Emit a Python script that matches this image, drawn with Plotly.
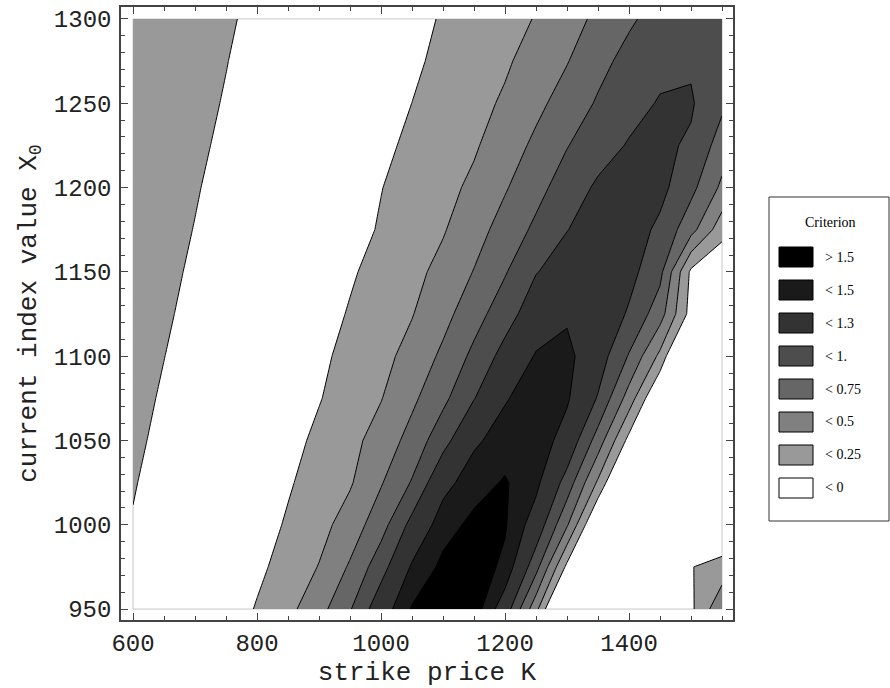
import plotly.graph_objects as go

# ---- data ----
strike_K = [600, 650, 700, 750, 800, 850, 900, 950, 1000, 1050,
            1100, 1150, 1200, 1250, 1300, 1350, 1400, 1450, 1500, 1550]
index_X0 = [950, 975, 1000, 1025, 1050, 1075, 1100, 1125, 1150,
            1175, 1200, 1225, 1250, 1275, 1300]

row_950 = [-0.044, -0.10, -0.15, -0.15, 0.02, 0.184, 0.41, 0.73, 1.17, 1.52,
           1.65, 1.62, 1.15, 0.33, -0.77, -0.6, -0.4, -0.2, -0.05, 0.45]
row_975 = [-0.026, -0.086, -0.146, -0.15, -0.056, 0.10, 0.26, 0.53, 0.90, 1.33,
           1.55, 1.60, 1.46, 0.84, -0.06, -0.5, -0.4, -0.25, -0.01, 0.1]
row_1000 = [-0.008, -0.068, -0.128, -0.16, -0.11, 0.028, 0.167, 0.36, 0.65, 1.08,
            1.42, 1.55, 1.52, 1.18, 0.53, -0.36, -0.45, -0.4, -0.3, -0.3]
row_1025 = [0.009, -0.051, -0.111, -0.16, -0.158, -0.026, 0.105, 0.2245, 0.48, 0.77,
            1.22, 1.42, 1.52, 1.36, 0.90, 0.21, -0.6, -0.5, -0.45, -0.45]
row_1050 = [0.027, -0.033, -0.093, -0.18, -0.204, -0.077, 0.051, 0.179, 0.35, 0.59,
            0.91, 1.26, 1.40, 1.43, 1.20, 0.64, -0.08, -0.5, -0.6, -0.6]
row_1075 = [0.044, -0.016, -0.076, -0.14, -0.22, -0.14, -0.013, 0.114, 0.24, 0.45,
            0.69, 0.99, 1.28, 1.42, 1.33, 0.98, 0.39, -0.34, -0.6, -0.7]
row_1100 = [0.062, 0.002, -0.058, -0.12, -0.2, -0.163, -0.048, 0.067, 0.18, 0.33,
            0.55, 0.81, 1.09, 1.32, 1.36, 1.13, 0.73, 0.19, -0.75, -0.75]
row_1125 = [0.080, 0.020, -0.040, -0.1, -0.2, -0.2, -0.093, 0.018, 0.128, 0.239,
            0.42, 0.65, 0.89, 1.15, 1.27, 1.20, 0.97, 0.61, -0.1, -0.5]
row_1150 = [0.097, 0.037, -0.023, -0.09, -0.18, -0.23, -0.132, -0.027, 0.078, 0.183,
            0.32, 0.51, 0.73, 0.99, 1.10, 1.15, 1.08, 0.82, -0.05, -0.25]
row_1175 = [0.115, 0.055, -0.005, -0.07, -0.15, -0.22, -0.19, -0.084, 0.021, 0.126,
            0.231, 0.40, 0.60, 0.80, 0.995, 1.09, 1.12, 0.95, 0.59, 0.1]
row_1200 = [0.132, 0.072, 0.012, -0.05, -0.12, -0.18, -0.19, -0.099, -0.006, 0.088,
            0.181, 0.297, 0.478, 0.67, 0.87, 1.04, 1.08, 1.07, 0.82, 0.45]
row_1225 = [0.150, 0.090, 0.030, -0.03, -0.1, -0.16, -0.22, -0.137, -0.047, 0.043,
            0.133, 0.223, 0.373, 0.552, 0.739, 0.893, 1.02, 1.045, 0.97, 0.63]
row_1250 = [0.168, 0.108, 0.048, -0.012, -0.08, -0.17, -0.22, -0.18, -0.089, 0.001,
            0.089, 0.179, 0.281, 0.438, 0.607, 0.777, 0.91, 1.02, 1.025, 0.8]
row_1275 = [0.185, 0.125, 0.065, 0.005, -0.06, -0.12, -0.22, -0.206, -0.121, -0.036,
            0.049, 0.134, 0.219, 0.343, 0.488, 0.674, 0.83, 0.93, 0.97, 0.85]
row_1300 = [0.203, 0.143, 0.083, 0.023, -0.04, -0.1, -0.16, -0.2, -0.142, -0.062,
            0.018, 0.097, 0.177, 0.261, 0.403, 0.551, 0.712, 0.85, 0.90, 0.88]

criterion = [row_950, row_975, row_1000, row_1025, row_1050, row_1075, row_1100,
             row_1125, row_1150, row_1175, row_1200, row_1225, row_1250,
             row_1275, row_1300]

contour_levels = [0, 0.25, 0.5, 0.75, 1.0, 1.3, 1.5]
level_fill = ["#999999", "#808080", "#666666", "#4d4d4d", "#333333", "#1a1a1a", "#000000"]

legend_labels = ["&gt; 1.5", "&lt; 1.5", "&lt; 1.3", "&lt; 1.", "&lt; 0.75",
                 "&lt; 0.5", "&lt; 0.25", "&lt; 0"]
legend_fill = ["#000000", "#1a1a1a", "#333333", "#4d4d4d", "#666666", "#808080", "#999999", "#ffffff"]

x_tickvals = [600, 800, 1000, 1200, 1400]
y_tickvals = [950, 1000, 1050, 1100, 1150, 1200, 1250, 1300]

# ---- figure ----
W, H = 890, 688
ML, MR, MT, MB = 121, 157, 7, 68
PW, PH = W - ML - MR, H - MT - MB

fig = go.Figure()

# light border of the sampled region
fig.add_shape(type="rect", x0=strike_K[0], x1=strike_K[-1], y0=index_X0[0], y1=index_X0[-1],
              xref="x", yref="y", line=dict(color="#c8c8c8", width=1), layer="below")

# constraint fill shades the region where the constraint fails, i.e. z >= level
for lev, col in zip(contour_levels, level_fill):
    fig.add_trace(go.Contour(
        x=strike_K, y=index_X0, z=criterion,
        contours=dict(type="constraint", operation="<", value=lev),
        fillcolor=col,
        line=dict(color="black", width=1, smoothing=0),
        showscale=False, hoverinfo="skip", showlegend=False,
    ))

mono = "Liberation Mono, Courier New, monospace"
axis_common = dict(showgrid=False, zeroline=False, showline=True, linecolor="#444",
                   linewidth=1.5, mirror="allticks", ticks="inside", ticklen=7,
                   tickcolor="#444", tickwidth=1, tickfont=dict(family=mono, size=24, color="#222"))

fig.update_xaxes(range=[580.6, 1567.7], tickvals=x_tickvals,
                 minor=dict(dtick=50, tick0=600, ticks="inside", ticklen=4, tickcolor="#444"),
                 title=dict(text="strike price K", font=dict(family=mono, size=26, color="#222"),
                            standoff=4),
                 **axis_common)
fig.update_yaxes(range=[943.5, 1307.1], tickvals=y_tickvals, ticklabelstandoff=3,
                 minor=dict(dtick=10, tick0=950, ticks="inside", ticklen=4, tickcolor="#444"),
                 title=dict(text="current index value X<sub>0</sub>",
                            font=dict(family=mono, size=26, color="#222"), standoff=10),
                 **axis_common)

# ---- legend box drawn in pixel geometry ----
def px(xp):
    return (xp - ML) / PW

def py(yp):
    return (H - MB - yp) / PH

serif = "Liberation Serif, Times New Roman, serif"
box_l, box_r, box_t, box_b = 769, 889, 197, 521
fig.add_shape(type="rect", xref="paper", yref="paper", x0=px(box_l), x1=px(box_r),
              y0=py(box_b), y1=py(box_t), line=dict(color="#333", width=1), fillcolor="white")
fig.add_annotation(x=px(830), y=py(222), xref="paper", yref="paper", text="Criterion",
                   xanchor="center", yanchor="middle",
                   showarrow=False, font=dict(family=serif, size=14, color="black"))
for i, (lab, col) in enumerate(zip(legend_labels, legend_fill)):
    cy = 257 + 33 * i
    fig.add_shape(type="rect", xref="paper", yref="paper", x0=px(779), x1=px(813),
                  y0=py(cy + 10), y1=py(cy - 10), line=dict(color="black", width=1), fillcolor=col)
    fig.add_annotation(x=px(823), y=py(cy), xref="paper", yref="paper", text=lab,
                       xanchor="left", yanchor="middle", showarrow=False,
                       font=dict(family=serif, size=14, color="black"))

fig.update_layout(width=W, height=H, margin=dict(l=ML, r=MR, t=MT, b=MB, autoexpand=False),
                  paper_bgcolor="white", plot_bgcolor="white", showlegend=False)

fig.write_html("out.html")
